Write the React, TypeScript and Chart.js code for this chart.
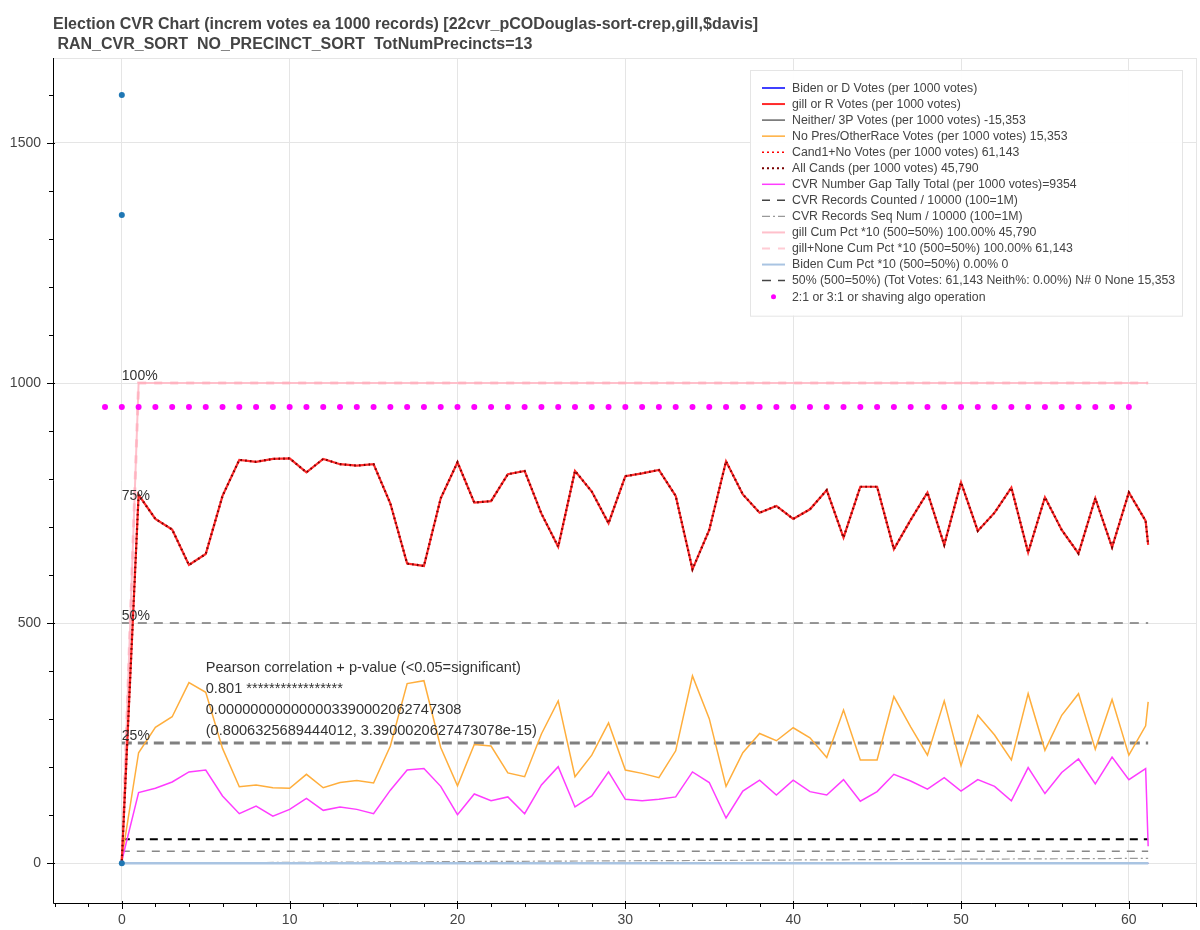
import React, { useEffect, useRef } from "react";
import { Chart, registerables } from "chart.js";

Chart.register(...registerables);
Chart.defaults.font.family = "'Liberation Sans', Arial, sans-serif";

// chunk index (each step = 1000 CVR records), last chunk is partial
const chunkIdx = [
  0, 1, 2, 3, 4, 5, 6, 7, 8, 9, 10, 11, 12, 13, 14, 15, 16, 17, 18, 19, 20,
  21, 22, 23, 24, 25, 26, 27, 28, 29, 30, 31, 32, 33, 34, 35, 36, 37, 38, 39, 40,
  41, 42, 43, 44, 45, 46, 47, 48, 49, 50, 51, 52, 53, 54, 55, 56, 57, 58, 59, 60,
  61, 61.15,
];

const gillVotes = [
  5, 767, 717, 695, 621, 644, 765, 840, 836, 842, 843, 814, 842, 831, 828, 831,
  749, 624, 619, 760, 835, 751, 754, 810, 817, 728, 659, 817, 774, 708, 806,
  812, 819, 765, 612, 694, 837, 768, 730, 744, 717, 737, 777, 678, 784, 784,
  654, 715, 772, 663, 793, 692, 730, 782, 647, 762, 694, 645, 760, 658, 772,
  713, 663,
];

const noPresVotes = [
  10, 230, 283, 305, 376, 356, 239, 159, 163, 157, 156, 185, 157, 168, 172, 167,
  244, 374, 380, 241, 161, 247, 244, 188, 180, 269, 338, 180, 225, 292, 194,
  187, 178, 234, 390, 301, 160, 230, 270, 255, 282, 261, 220, 319, 215, 215,
  347, 284, 225, 338, 203, 308, 267, 215, 353, 235, 308, 353, 237, 341, 225,
  286, 336,
];

const gapTally = [
  5, 147, 156, 169, 190, 194, 140, 103, 119, 98, 112, 135, 110, 117, 112, 103,
  152, 194, 197, 160, 101, 144, 130, 138, 103, 163, 201, 117, 140, 190, 133,
  130, 133, 138, 190, 168, 94, 150, 173, 142, 173, 149, 142, 174, 129, 149,
  185, 171, 154, 178, 150, 174, 160, 130, 199, 145, 189, 217, 165, 221, 174,
  197, 35,
];

// flat / reference series (start and end of the run)
const spanX = [0, 61.15];
const bidenVotes = [0, 0];
const neitherVotes = [0, 0];
const seqNum = [0, 10];
const countedRef = [25, 25];
const blackRef = [50, 50];
const quarterRef = [250, 250];
const halfRef = [500, 500];

const cumX = [0, 1, 61.15];
const gillCum = [0, 1000, 1000];
const gillNoneCum = [0, 1000, 1000];
const bidenCum = [0, 0, 0];

const outlierX = [0, 0, 0];
const outlierY = [1600, 1350, 0];

const shaveX = [
  -1, 0, 1, 2, 3, 4, 5, 6, 7, 8, 9, 10, 11, 12, 13, 14, 15, 16, 17, 18, 19, 20,
  21, 22, 23, 24, 25, 26, 27, 28, 29, 30, 31, 32, 33, 34, 35, 36, 37, 38, 39, 40,
  41, 42, 43, 44, 45, 46, 47, 48, 49, 50, 51, 52, 53, 54, 55, 56, 57, 58, 59, 60,
];
const shaveLevel = 950;

const xTicks = [0, 10, 20, 30, 40, 50, 60];
const yTicks = [0, 500, 1000, 1500];

const pctLabels = ["100%", "75%", "50%", "25%"];
const pctLevels = [1000, 750, 500, 250];

const pearsonLines = [
  "Pearson correlation + p-value (<0.05=significant)",
  "0.801 *****************",
  "0.000000000000003390002062747308",
  "(0.8006325689444012, 3.3900020627473078e-15)",
];

const pts = (xs: number[], ys: number[]) => xs.map((x, i) => ({ x, y: ys[i] }));

const line = (label: string, data: any[], color: string, width: number, dash: number[], order: number, extra: any = {}) => ({
  label,
  data,
  showLine: true,
  borderColor: color,
  backgroundColor: color,
  borderWidth: width,
  borderDash: dash,
  pointRadius: 0,
  pointHoverRadius: 0,
  fill: false,
  tension: 0,
  order,
  ...extra,
});

const overlayPlugin = {
  id: "overlay",
  beforeDatasetsDraw(chart: any) {
    const { ctx, chartArea } = chart;
    ctx.save();
    ctx.strokeStyle = "#e5e5e5";
    ctx.lineWidth = 1;
    ctx.strokeRect(chartArea.left + 0.5, chartArea.top + 0.5, chartArea.width - 1, chartArea.height);
    ctx.restore();
  },
  afterDatasetsDraw(chart: any) {
    const { ctx, chartArea, scales } = chart;
    const xs = scales.x;
    const ys = scales.y;
    ctx.save();
    // percent labels
    ctx.font = "14px 'Liberation Sans', Arial, sans-serif";
    ctx.fillStyle = "#333";
    ctx.textBaseline = "alphabetic";
    ctx.textAlign = "left";
    pctLabels.forEach((t, i) => {
      ctx.fillText(t, xs.getPixelForValue(0), ys.getPixelForValue(pctLevels[i]) - 3);
    });
    // pearson block
    ctx.font = "14.6px 'Liberation Sans', Arial, sans-serif";
    const px = xs.getPixelForValue(5);
    const py = ys.getPixelForValue(398);
    pearsonLines.forEach((t, i) => ctx.fillText(t, px, py + i * 21));

    // axes
    const { left, right, top, bottom } = chartArea;
    ctx.strokeStyle = "#000";
    ctx.lineWidth = 1;
    ctx.beginPath();
    ctx.moveTo(left + 0.5, top);
    ctx.lineTo(left + 0.5, bottom + 0.5);
    ctx.lineTo(right, bottom + 0.5);
    ctx.stroke();
    ctx.beginPath();
    for (let v = Math.ceil(ys.min / 100) * 100; v <= ys.max; v += 100) {
      const y = Math.round(ys.getPixelForValue(v)) + 0.5;
      const major = v % 500 === 0;
      ctx.moveTo(left + (major ? 2 : 0), y);
      ctx.lineTo(left - (major ? 6 : 4), y);
    }
    for (let v = Math.ceil(xs.min / 2) * 2; v <= xs.max; v += 2) {
      const x = Math.round(xs.getPixelForValue(v)) + 0.5;
      const major = v % 10 === 0;
      ctx.moveTo(x, bottom - (major ? 2 : 0));
      ctx.lineTo(x, bottom + (major ? 6 : 4));
    }
    ctx.stroke();
    ctx.restore();
  },
  afterDraw(chart: any) {
    const { ctx, chartArea } = chart;
    const items = chart.data.datasets.filter((d: any) => d.inLegend !== false);
    const w = 432;
    const rowH = 16.05;
    const h = items.length * rowH + 21;
    const x0 = chartArea.right - 15 - w;
    const y0 = chartArea.top + 12;
    ctx.save();
    ctx.fillStyle = "rgba(255,255,255,0.95)";
    ctx.fillRect(x0, y0, w, h);
    ctx.strokeStyle = "#e5e5e5";
    ctx.lineWidth = 1;
    ctx.strokeRect(x0 + 0.5, y0 + 0.5, w, h);
    ctx.font = "12.3px 'Liberation Sans', Arial, sans-serif";
    ctx.textBaseline = "middle";
    ctx.textAlign = "left";
    items.forEach((d: any, i: number) => {
      const cy = y0 + 18 + i * rowH;
      if (d.showLine === false) {
        ctx.fillStyle = d.backgroundColor;
        ctx.beginPath();
        ctx.arc(x0 + 23.5, cy, 2.5, 0, Math.PI * 2);
        ctx.fill();
      } else {
        ctx.strokeStyle = d.legendColor || d.borderColor;
        ctx.lineWidth = d.legendWidth || Math.min(d.borderWidth, 2);
        ctx.setLineDash(d.legendDash || d.borderDash || []);
        ctx.beginPath();
        ctx.moveTo(x0 + 12, cy);
        ctx.lineTo(x0 + 35, cy);
        ctx.stroke();
        ctx.setLineDash([]);
      }
      ctx.fillStyle = "#444";
      ctx.fillText(d.label, x0 + 42, cy + 0.5);
    });
    ctx.restore();
  },
};

const App: React.FC = () => {
  const canvasRef = useRef<HTMLCanvasElement | null>(null);
  const chartRef = useRef<Chart | null>(null);

  useEffect(() => {
    document.body.style.margin = "0";
    const ctx = canvasRef.current?.getContext("2d");
    if (!ctx) return;
    if (chartRef.current) chartRef.current.destroy();

    chartRef.current = new Chart(ctx, {
      type: "scatter",
      data: {
        datasets: [
          line("Biden or D Votes (per 1000 votes)", pts(spanX, bidenVotes), "#0000ff", 1.5, [], 20),
          line("gill or R Votes (per 1000 votes)", pts(chunkIdx, gillVotes), "#ff2a2a", 2.2, [], 4),
          line("Neither/ 3P Votes (per 1000 votes) -15,353", pts(spanX, neitherVotes), "#666", 1.5, [], 21),
          line("No Pres/OtherRace Votes (per 1000 votes) 15,353", pts(chunkIdx, noPresVotes), "#ffae3c", 1.5, [], 6),
          line("Cand1+No Votes (per 1000 votes) 61,143", [], "red", 1.5, [2, 3], 22),
          line("All Cands (per 1000 votes) 45,790", pts(chunkIdx, gillVotes), "#7a0000", 2.2, [1.6, 3.2], 3, { legendDash: [2, 3] }),
          line("CVR Number Gap Tally Total (per 1000 votes)=9354", pts(chunkIdx, gapTally), "#ff3cff", 1.5, [], 5),
          line("CVR Records Counted / 10000 (100=1M)", pts(spanX, countedRef), "#888", 1.5, [8, 7], 12, { legendColor: "#444" }),
          line("CVR Records Seq Num / 10000 (100=1M)", pts(spanX, seqNum), "#999", 1.2, [8, 3, 2, 3], 13),
          line("gill Cum Pct *10 (500=50%) 100.00% 45,790", pts(cumX, gillCum), "#ffc0cb", 2, [], 9),
          line("gill+None Cum Pct *10 (500=50%) 100.00% 61,143", pts(cumX, gillNoneCum), "rgba(255,170,185,0.6)", 3, [8, 8], 8),
          line("Biden Cum Pct *10 (500=50%) 0.00% 0", pts(cumX, bidenCum), "#a9c4e2", 2.5, [], 10),
          line("50% (500=50%) (Tot Votes: 61,143 Neith%: 0.00%) N# 0 None 15,353", pts(spanX, halfRef), "#777", 1.5, [9, 7], 11, { legendColor: "#444" }),
          {
            label: "2:1 or 3:1 or shaving algo operation",
            data: shaveX.map((x) => ({ x, y: shaveLevel })),
            showLine: false,
            pointRadius: 3,
            pointHoverRadius: 3,
            pointBorderWidth: 0,
            backgroundColor: "#ff00ff",
            borderColor: "#ff00ff",
            order: 2,
          },
          line("25%", pts(spanX, quarterRef), "#808080", 3, [10, 6], 14, { inLegend: false }),
          line("records", pts(spanX, blackRef), "#000", 2, [8, 6], 15, { inLegend: false }),
          {
            label: "outliers",
            data: pts(outlierX, outlierY),
            showLine: false,
            pointRadius: 3,
            pointHoverRadius: 3,
            pointBorderWidth: 0,
            backgroundColor: "#1f77b4",
            borderColor: "#1f77b4",
            order: 1,
            inLegend: false,
          },
        ] as any,
      },
      options: {
        animation: false,
        responsive: true,
        maintainAspectRatio: false,
        events: [],
        layout: { padding: { top: 58, right: 3, left: 0, bottom: 0 } },
        plugins: {
          legend: { display: false },
          tooltip: { enabled: false },
        },
        scales: {
          x: {
            type: "linear",
            min: -4.1,
            max: 64.06,
            grid: { color: "#e5e5e5", drawTicks: false },
            border: { display: false },
            ticks: {
              padding: 9,
              color: "#444",
              font: { size: 14 },
              maxRotation: 0,
              autoSkip: false,
              callback: (v: any) => String(v),
            },
            afterBuildTicks: (s: any) => {
              s.ticks = xTicks.map((v) => ({ value: v }));
            },
            afterFit: (s: any) => {
              s.height = 27;
            },
          },
          y: {
            type: "linear",
            min: -83,
            max: 1677,
            grid: { color: "#e5e5e5", drawTicks: false },
            border: { display: false },
            ticks: {
              padding: 12,
              color: "#444",
              font: { size: 14 },
              autoSkip: false,
              callback: (v: any) => String(v),
            },
            afterBuildTicks: (s: any) => {
              s.ticks = yTicks.map((v) => ({ value: v }));
            },
            afterFit: (s: any) => {
              s.width = 53;
            },
          },
        },
      } as any,
      plugins: [overlayPlugin],
    });

    return () => {
      chartRef.current?.destroy();
      chartRef.current = null;
    };
  }, []);

  return (
    <div style={{ position: "relative", width: 1200, height: 930, background: "#fff" }}>
      <div
        style={{
          position: "absolute",
          left: 53,
          top: 14,
          font: "bold 16px 'Liberation Sans', Arial, sans-serif",
          color: "#444",
          lineHeight: "20px",
          whiteSpace: "pre",
        }}
      >
        {"Election CVR Chart (increm votes ea 1000 records) [22cvr_pCODouglas-sort-crep,gill,$davis]\n RAN_CVR_SORT  NO_PRECINCT_SORT  TotNumPrecincts=13"}
      </div>
      <canvas ref={canvasRef}></canvas>
    </div>
  );
};

export default App;
